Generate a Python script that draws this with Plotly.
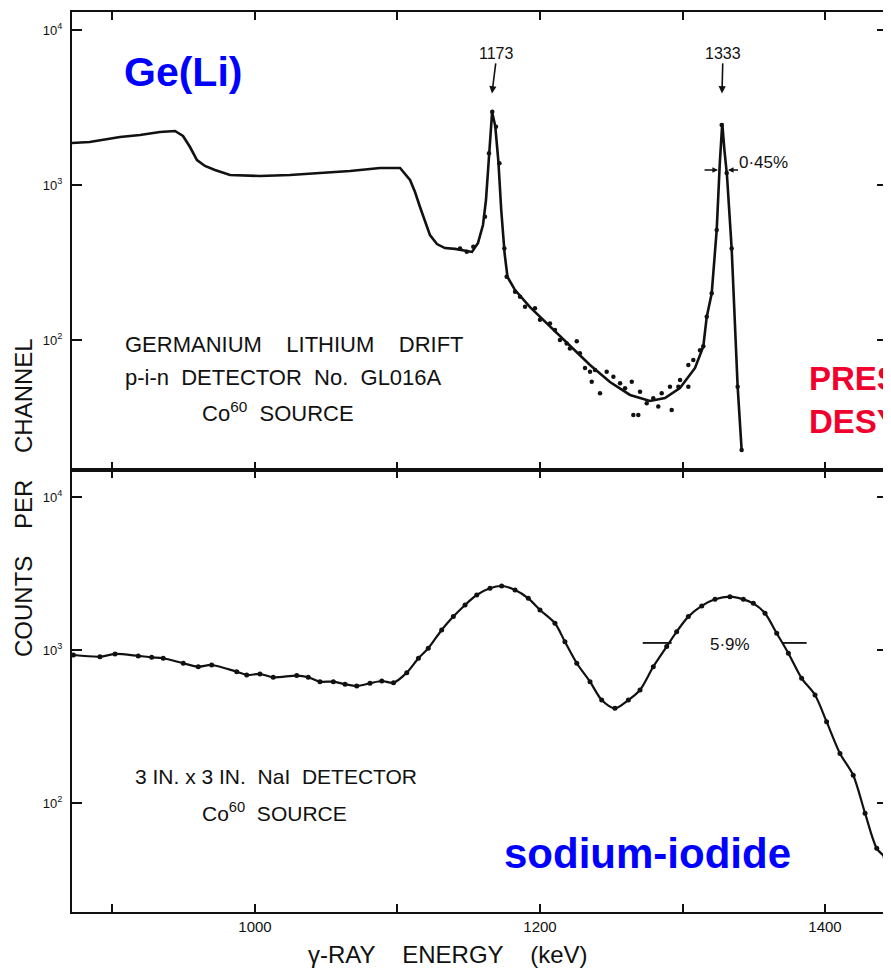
import plotly.graph_objects as go
import math

# ---------------- data ----------------
# Ge(Li) spectrum: drawn curve
GE_KEV = [871.6, 884, 905.3, 919.3, 933.3, 943.9, 949.5, 954.4, 959.3, 964.9, 971.9, 982.5,
          1003.5, 1024.6, 1045.6, 1066.7, 1087.7, 1101.8, 1108.8, 1112.3, 1115.8, 1119.3, 1122.8,
          1127.7, 1133.3, 1140.4, 1147.4, 1152.3, 1156.5, 1160.0, 1162.1, 1164.2, 1166.4, 1168.6,
          1170.8, 1172.8, 1175.2, 1177.2, 1182.5, 1193, 1207, 1221, 1235.1, 1249.1, 1263.2, 1277.2,
          1287.7, 1298.2, 1308.8, 1314.6, 1317.0, 1320.5, 1324.0, 1326.2, 1327.9, 1329.4, 1331.2,
          1334.5, 1336.8, 1338.7, 1341.5]
GE_COUNTS = [1866, 1893, 2042, 2103, 2199, 2230, 2070, 1758, 1449, 1327, 1250, 1160,
             1143, 1160, 1195, 1231, 1287, 1287, 1077, 901, 721, 577, 475,
             416, 392, 387, 375, 370, 423, 552, 800, 1580, 2950, 2400,
             1420, 690, 360, 255, 210, 163, 123, 93, 69, 53.6, 44.2, 40.4,
             42.2, 49, 66, 91, 141, 200, 513, 1400, 2500, 1683, 1160,
             389, 135, 50, 19.5]

# Ge(Li) spectrum: measured points
GE_DOT_KEV = [1143.9, 1148.6, 1153.2, 1161.4, 1164.2, 1166.5, 1169.1, 1171.5, 1175.0, 1176.6,
              1182.5, 1186.0, 1189.5, 1196.5, 1200.0, 1207.0, 1210.5, 1214.0, 1218.7, 1221.0,
              1225.8, 1228.0, 1231.6, 1235.1, 1236.3, 1238.6, 1242.1, 1246.8, 1251.5, 1256.2,
              1259.7, 1264.4, 1265.5, 1269.0, 1270.2, 1274.9, 1279.5, 1283.0, 1285.4, 1291.2,
              1292.4, 1297.1, 1298.3, 1304.1, 1304.1, 1307.6, 1312.3, 1314.6, 1317.0, 1320.5,
              1324.0, 1327.5, 1331.0, 1334.5, 1338.7, 1341.5]
GE_DOT_COUNTS = [390, 371, 400, 625, 1600, 2972, 2377, 1381, 390, 256,
                 205, 190, 164, 160, 135, 128, 116, 100, 95, 88,
                 98, 82, 66, 62.5, 53.8, 64, 45.3, 62.5, 58, 52.6,
                 48.8, 53.8, 32.8, 32.8, 46.4, 39.1, 42.1, 37.2, 45.3, 50,
                 35.3, 50, 55.2, 50, 69, 74.3, 86, 91, 141, 200,
                 513, 2438, 1195, 389, 50, 19.5]

# NaI spectrum
NAI_KEV = [872.6, 891.2, 901.8, 918.1, 927.5, 935.6, 949.7, 960.2, 969.6, 987.2, 994.2, 1003.5,
           1012.8, 1029.3, 1037.4, 1045.6, 1055.0, 1063.2, 1071.4, 1080.7, 1089.0, 1097.2, 1106.5,
           1114.7, 1121.6, 1131.0, 1139.2, 1147.4, 1155.6, 1164.9, 1173.1, 1182.5, 1191.8, 1200.0,
           1210.5, 1217.5, 1225.8, 1235.1, 1243.3, 1252.6, 1262.0, 1270.2, 1279.5, 1288.9, 1295.9,
           1304.1, 1313.5, 1322.8, 1333.3, 1342.7, 1349.7, 1357.9, 1366.1, 1374.3, 1383.6, 1393.0,
           1401.1, 1410.5, 1419.8, 1428.1, 1436.3, 1442.1]
NAI_COUNTS = [927, 904, 942, 915, 896, 883, 819, 778, 798, 721, 687, 697,
              663, 680, 663, 621, 621, 597, 582, 606, 627, 611, 711,
              883, 1026, 1352, 1652, 1969, 2287, 2529, 2618, 2466, 2176, 1826,
              1494, 1132, 819, 621, 471, 416, 471, 548, 778, 1052, 1318,
              1652, 1941, 2143, 2229, 2143, 2018, 1738, 1285, 951, 653, 508,
              340, 211, 152, 85.8, 50.6, 44.6]

# peak labels (Ge(Li) panel)
PEAK_LABELS = ["1173", "1333"]
PEAK_ARROW_KEV = [1166.3, 1327.7]

# resolution markers
GE_FWHM_LABEL = "0·45%"
GE_FWHM_KEV = [1314.4, 1324.9, 1340.0, 1331.9]   # left tail, left head, right tail, right head
GE_FWHM_COUNTS = 1250
NAI_FWHM_LABEL = "5·9%"
NAI_FWHM_KEV = [1272.1, 1292.4, None, 1370.5, 1387.1]
NAI_FWHM_COUNTS = [1112, 1112, None, 1112, 1112]

X_TICKS = [1000, 1200, 1400]
X_TICKTEXT = ["1000", "1200", "1400"]
X_MINOR_TICKS = [900, 1100, 1300]
Y_TICKS = [100, 1000, 10000]
Y_TICKTEXT = ["10<sup>2</sup>", "10<sup>3</sup>", "10<sup>4</sup>"]

# ---------------- layout geometry ----------------
# the page body has an 8px margin, so the figure is drawn 8px smaller and offset
OFF = 8
W, H = 891 - OFF, 969 - OFF
PLOT_L, PLOT_R, PLOT_T, PLOT_B = 72, 887, 12, 912      # target screen pixels
ML, MR, MT, MB = PLOT_L - OFF, 891 - PLOT_R, PLOT_T - OFF, 969 - PLOT_B
PW, PH = PLOT_R - PLOT_L, PLOT_B - PLOT_T
SPLIT_PX = 470
split = (PLOT_B - SPLIT_PX) / PH


def paper(xp, yp):
    return (xp - PLOT_L) / PW, (PLOT_B - yp) / PH


LETTER = "Liberation Sans"
BLACK = "#111111"

fig = go.Figure()

# Ge(Li) panel
fig.add_trace(go.Scatter(x=GE_KEV, y=GE_COUNTS, mode="lines",
                         line=dict(color=BLACK, width=2.6),
                         xaxis="x2", yaxis="y2", showlegend=False, hoverinfo="skip"))
fig.add_trace(go.Scatter(x=GE_DOT_KEV, y=GE_DOT_COUNTS, mode="markers",
                         marker=dict(color=BLACK, size=4.5),
                         xaxis="x2", yaxis="y2", showlegend=False))
# NaI panel
fig.add_trace(go.Scatter(x=NAI_KEV, y=NAI_COUNTS, mode="lines+markers",
                         line=dict(color=BLACK, width=2.2, shape="spline", smoothing=0.8),
                         marker=dict(color=BLACK, size=5),
                         xaxis="x", yaxis="y", showlegend=False))
fig.add_trace(go.Scatter(x=NAI_FWHM_KEV, y=NAI_FWHM_COUNTS, mode="lines",
                         line=dict(color=BLACK, width=1.8),
                         xaxis="x", yaxis="y", showlegend=False, hoverinfo="skip"))

xr = [871.6, 1443.5]
axis_common = dict(showline=True, linecolor=BLACK, linewidth=2, mirror="ticks",
                   ticks="inside", tickcolor=BLACK, showgrid=False, zeroline=False,
                   automargin=False)
minor_x = dict(tickvals=X_MINOR_TICKS, ticks="inside", ticklen=8, tickwidth=1.5,
               tickcolor=BLACK, showgrid=False)

fig.update_layout(
    width=W, height=H,
    margin=dict(l=ML, r=MR, t=MT, b=MB, autoexpand=False),
    paper_bgcolor="white", plot_bgcolor="white",
    showlegend=False,
    xaxis=dict(domain=[0, 1], range=xr, anchor="y", tickvals=X_TICKS, ticktext=X_TICKTEXT,
               ticklen=8, tickwidth=1.5, minor=minor_x,
               tickfont=dict(family=LETTER, size=15, color=BLACK), **axis_common),
    xaxis2=dict(domain=[0, 1], range=xr, anchor="y2", matches="x", tickvals=X_TICKS,
                showticklabels=False, ticklen=8, tickwidth=1.5, minor=minor_x, **axis_common),
    yaxis=dict(domain=[0, split], type="log", range=[1.288, 4.176], anchor="x",
               tickvals=Y_TICKS, ticktext=Y_TICKTEXT, ticklen=10, tickwidth=1.5,
               ticklabelstandoff=5,
               tickfont=dict(family=LETTER, size=13, color=BLACK), **axis_common),
    yaxis2=dict(domain=[split, 1], type="log", range=[1.1613, 4.1161], anchor="x2",
                tickvals=Y_TICKS, ticktext=Y_TICKTEXT, ticklen=10, tickwidth=1.5,
                ticklabelstandoff=5,
                tickfont=dict(family=LETTER, size=13, color=BLACK), **axis_common),
)

ann = []


def text_at(txt, xp, yp, size, xanchor="left", color=BLACK, family=LETTER, angle=0, bold=False):
    px_, py_ = paper(xp, yp)
    ann.append(dict(text=("<b>%s</b>" % txt) if bold else txt, x=px_, y=py_, xref="paper", yref="paper",
                    xanchor=xanchor, yanchor="middle", showarrow=False, textangle=angle,
                    font=dict(family=family, size=size, color=color)))


NB = "\u00a0"
# labels inside panels
text_at("GERMANIUM" + NB * 4 + "LITHIUM" + NB * 4 + "DRIFT", 123, 344, 22)
text_at("p-i-n" + NB * 2 + "DETECTOR" + NB * 2 + "No." + NB * 2 + "GL016A", 123, 378, 22)
text_at("Co<sup>60</sup>" + NB * 2 + "SOURCE", 200, 412, 22)
text_at("3 IN. x 3 IN." + NB * 2 + "NaI" + NB * 2 + "DETECTOR", 133, 776, 21)
text_at("Co<sup>60</sup>" + NB * 2 + "SOURCE", 200, 812, 21)

# axis titles
text_at("COUNTS" + NB * 4 + "PER" + NB * 4 + "CHANNEL", 23, 498, 24, xanchor="center", angle=-90)
text_at("γ-RAY" + NB * 4 + "ENERGY" + NB * 4 + "(keV)", 448, 955, 24, xanchor="center")

# coloured overlay labels
text_at("Ge(Li)", 183, 72, 41, xanchor="center", color="#0000ff", family="Liberation Sans", bold=True)
text_at("sodium-iodide", 647, 853, 42, xanchor="center", color="#0000ff", family="Liberation Sans", bold=True)
text_at("PRES<br>DESY", 807, 400, 33, xanchor="left", color="#f2002d", family="Liberation Sans", bold=True)

# peak arrows with labels
for lab, kev, dx in zip(PEAK_LABELS, PEAK_ARROW_KEV, [5, 1]):
    ann.append(dict(text=lab, x=kev, y=math.log10(3900), xref="x2", yref="y2",
                    showarrow=True, arrowhead=2, arrowsize=0.9, arrowwidth=1.6, arrowcolor=BLACK,
                    ax=dx, ay=-40, standoff=0,
                    font=dict(family=LETTER, size=16, color=BLACK)))

# Ge(Li) FWHM arrows
for tail, head in [(GE_FWHM_KEV[0], GE_FWHM_KEV[1]), (GE_FWHM_KEV[2], GE_FWHM_KEV[3])]:
    ann.append(dict(text="", x=head, y=math.log10(GE_FWHM_COUNTS), xref="x2", yref="y2",
                    ax=tail, ay=math.log10(GE_FWHM_COUNTS), axref="x2", ayref="y2",
                    showarrow=True, arrowhead=2, arrowsize=0.8, arrowwidth=1.4, arrowcolor=BLACK,
                    standoff=0))
ann.append(dict(text=GE_FWHM_LABEL, x=1338.2, y=math.log10(1390), xref="x2", yref="y2",
                xanchor="left", yanchor="middle", showarrow=False,
                font=dict(family=LETTER, size=17, color=BLACK)))
ann.append(dict(text=NAI_FWHM_LABEL, x=1333.3, y=math.log10(1090), xref="x", yref="y",
                xanchor="center", yanchor="middle", showarrow=False,
                font=dict(family=LETTER, size=17, color=BLACK)))

fig.update_layout(annotations=ann)

fig.write_html("out.html")
